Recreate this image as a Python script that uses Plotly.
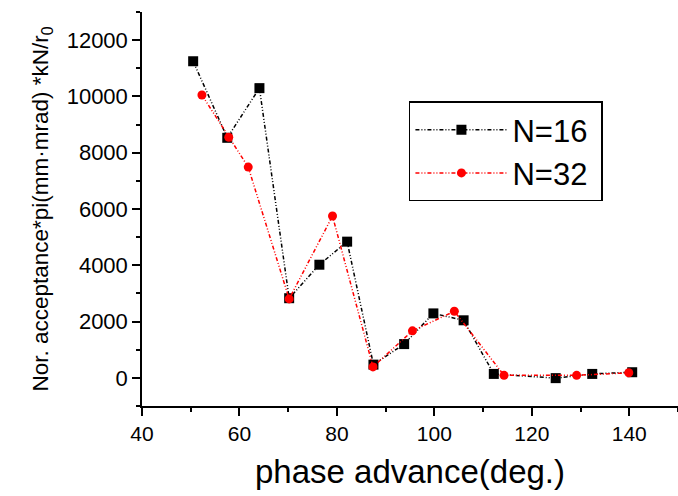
import plotly.graph_objects as go

x16 = [50.5, 57.5, 64.1, 70.2, 76.4, 82.1, 87.5, 93.8, 99.8, 106.0, 112.2, 124.9, 132.4, 140.6]
y16 = [11250, 8530, 10295, 2830, 4020, 4840, 470, 1200, 2290, 2045, 140, -10, 140, 200]
x32 = [52.3, 57.8, 61.8, 70.2, 79.1, 87.4, 95.5, 104.1, 114.3, 129.2, 139.9]
y32 = [10050, 8550, 7490, 2805, 5750, 390, 1670, 2365, 90, 90, 180]

dash = "4px,2px,1px,2px,1px,2px"
fig = go.Figure()
fig.add_trace(go.Scatter(x=x16, y=y16, mode="lines+markers", name="N=16 ",
                         line=dict(color="black", width=1.5, dash=dash),
                         marker=dict(symbol="square", size=10, color="black")))
fig.add_trace(go.Scatter(x=x32, y=y32, mode="lines+markers", name="N=32 ",
                         line=dict(color="red", width=1.5, dash=dash),
                         marker=dict(symbol="circle", size=9, color="red")))

font = "Liberation Sans, Arial, sans-serif"
fig.update_layout(
    width=678, height=496,
    margin=dict(l=142, r=0, t=12, b=90),
    paper_bgcolor="white", plot_bgcolor="white",
    font=dict(family=font, color="black", size=21),
    showlegend=True,
    legend=dict(x=0.498, y=0.646, xanchor="left", yanchor="middle",
                bordercolor="black", borderwidth=1.5, bgcolor="white",
                font=dict(size=31, family=font), itemwidth=92,
                tracegroupgap=0),
    xaxis=dict(range=[40, 150], dtick=20, tick0=40, showgrid=False, zeroline=False,
               showline=True, linecolor="black", linewidth=1.5,
               ticks="outside", ticklen=8, tickwidth=1.5, tickcolor="black",
               minor=dict(dtick=10, ticks="outside", ticklen=4, tickwidth=1.5, tickcolor="black"),
               tickfont=dict(size=21),
               title=dict(text="phase advance(deg.)", font=dict(size=33), standoff=16)),
    yaxis=dict(range=[-1000, 13000], dtick=2000, tick0=0, showgrid=False, zeroline=False,
               showline=True, linecolor="black", linewidth=1.5, tickformat="d",
               ticks="outside", ticklen=8, tickwidth=1.5, tickcolor="black",
               minor=dict(dtick=1000, ticks="outside", ticklen=4, tickwidth=1.5, tickcolor="black"),
               tickfont=dict(size=22),
               title=dict(text="Nor. acceptance*pi(mm·mrad) *kN/r<sub>0</sub>", font=dict(size=22.5), standoff=12)),
)
fig.write_html("out.html")
